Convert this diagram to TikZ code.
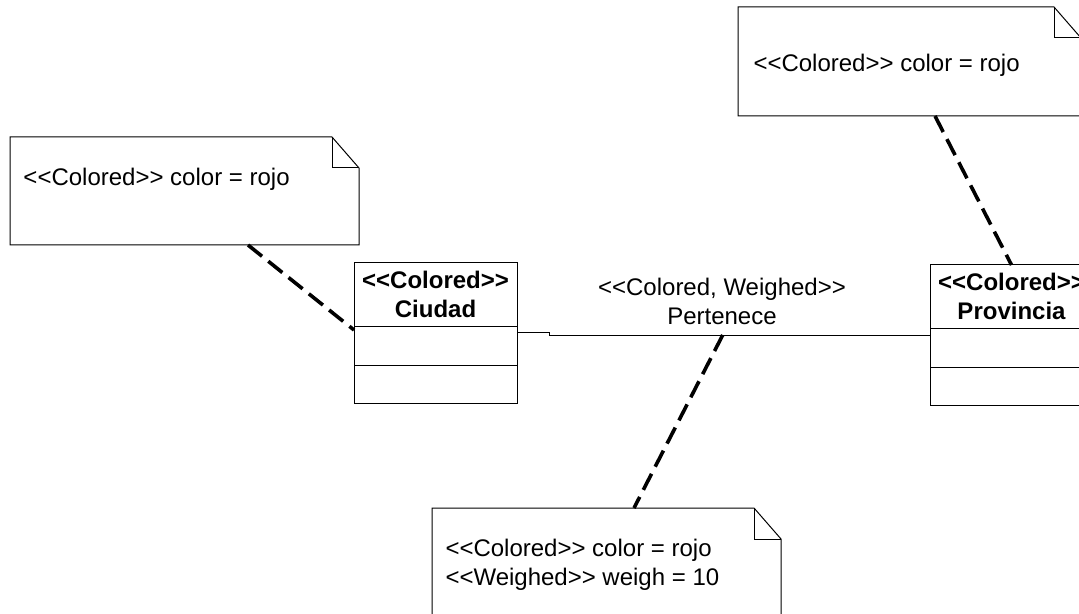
\documentclass[tikz,border=0pt]{standalone}
\usepackage{fontspec}
\newfontfamily\umlfont{Liberation Sans}
\usetikzlibrary{
  calc,
  positioning
}
\newcommand{\dogear}[1]{%
  \draw[notefill] (#1.south west) -- (#1.north west) -- ([xshift=-13.5pt]#1.north east)
    -- ([yshift=-15.5pt]#1.north east) -- (#1.south east) -- cycle;
  \draw ([xshift=-13.5pt]#1.north east) |- ([yshift=-15.5pt]#1.north east);}

\begin{document}
\begin{tikzpicture}[x=0.5pt, y=-0.5pt, line width=0.5pt,
    every node/.style={font=\umlfont\fontsize{12}{14.5}\selectfont},
    note/.style={rectangle, anchor=north west, inner sep=0pt, outer sep=0pt},
    notefill/.style={fill=white},
    notetext/.style={anchor=base west, inner sep=0pt, align=left},
    classhead/.style={rectangle, draw, anchor=north west, minimum width=81.5pt, minimum height=31.5pt,
      inner sep=0pt, outer sep=0pt, align=center, font=\umlfont\bfseries\fontsize{12}{14.5}\selectfont},
    classpart/.style={rectangle, draw, minimum width=81.5pt, minimum height=19.5pt, inner sep=0pt, outer sep=0pt},
    anchorline/.style={dash pattern=on 9pt off 4pt, line width=1.8pt}]
  \useasboundingbox (0,0) rectangle (1079,614);
  \fill[white] (0,0) rectangle (1079,614);
  \clip (0,0) rectangle (1079,614);

  % classes
  \node[classhead] (chead) at (354,263) {<<Colored>>\\Ciudad};
  \node[classpart, below=0pt of chead] (cattr) {};
  \node[classpart, below=0pt of cattr, minimum height=19pt] (cops) {};

  \node[classhead] (phead) at (930,265) {<<Colored>>\\Provincia};
  \node[classpart, below=0pt of phead] (pattr) {};
  \node[classpart, below=0pt of pattr, minimum height=19pt] (pops) {};

  % association
  \draw ([yshift=-3pt]cattr.north east) -- ++(16pt,0pt)
    |- coordinate[pos=0.728] (assocpt)
       node[pos=0.727, above, align=center, inner xsep=0pt, inner ysep=5pt] (assoclbl) {<<Colored, Weighed>>\\Pertenece}
    ([yshift=-3.5pt]pattr.north west);

  % notes
  \node[note, minimum width=174.5pt, minimum height=54pt] (cnote) at (10,137) {};
  \dogear{cnote}
  \node[notetext] (cnotetxt) at ([shift={(6.5pt,-24.5pt)}]cnote.north west) {<<Colored>> color = rojo};

  \node[note, minimum width=171.5pt, minimum height=54.5pt] (pnote) at (738,7) {};
  \dogear{pnote}
  \node[notetext] (pnotetxt) at ([shift={(7.5pt,-32.5pt)}]pnote.north west) {<<Colored>> color = rojo};

  \node[note, minimum width=174.5pt, minimum height=54.5pt] (anote) at (432,508) {};
  \dogear{anote}
  \node[notetext] (anotetxt) at ([shift={(6.5pt,-38.5pt)}]anote.north west) {<<Colored>> color = rojo\\<<Weighed>> weigh = 10};

  % note links
  \draw[anchorline] ([xshift=119pt]cnote.south west) -- ([yshift=-2pt]chead.south west);
  \draw[anchorline] ([xshift=98.5pt]pnote.south west) -- (phead.north);
  \draw[anchorline] (assocpt) -- ([xshift=101pt]anote.north west);
\end{tikzpicture}
\end{document}
